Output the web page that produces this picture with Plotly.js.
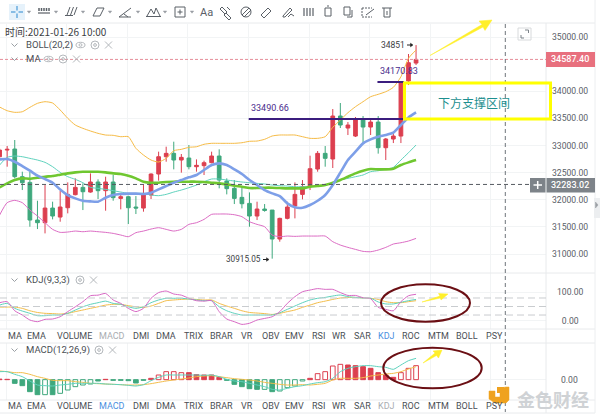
<!DOCTYPE html>
<html><head><meta charset="utf-8">
<script src="https://cdn.plot.ly/plotly-3.0.0.min.js"></script>
<style>html,body{margin:0;padding:0;background:#fff}#c{width:600px;height:414px}</style>
</head><body><div id="c"></div>
<script>
const opens=[32794,32917,32936,32426,32321,31627,31578,31848,31682,31854,32094,32229,32143,32328,32168,32328,32026,32057,31867,31848,32088,32475,32794,32856,32733,32770,32610,32629,32684,32807,32346,32211,32045,31934,31701,31830,31811,31277,31658,31885,32100,32241,32567,32856,32752,33544,33323,33175,33470,33341,33433,32960,33120,33175,34189,34520];
const closes=[32917,32930,32426,32315,31627,31578,31848,31701,31867,32100,32229,32149,32328,32168,32328,32039,32057,31854,31848,32088,32475,32794,32856,32733,32782,32610,32635,32684,32807,32364,32205,32026,31928,31701,31830,31805,31277,31658,31867,32100,32241,32573,32856,32764,33544,33378,33378,33489,33341,33433,32960,33120,33175,34158,34526,34587.4];
const highs=[32948,32991,33102,32518,32518,31983,32272,31965,32162,32321,32395,32303,32487,32377,32426,32457,32088,32076,32069,32272,32487,32887,32979,33071,32844,33010,32745,32721,32887,32930,32395,32364,32229,32137,31965,31922,31811,31670,31965,32321,32364,32813,32899,32991,33673,33784,33433,33526,33544,33470,33544,33139,33249,34170.83,34687,34851];
const lows=[32782,32610,32395,32180,31504,31461,31381,31639,31596,31750,32082,31811,32131,32014,31799,31983,31824,31553,31738,31781,32014,32352,32702,32561,32500,32561,32518,32457,32672,32211,32100,31922,31842,31504,31627,31781,30915.05,31228,31639,31658,32008,32180,32518,32610,32586,33323,33194,33157,33046,33194,32851,32733,33046,33046,34115,34484];
const bollUpper=[33710,33642,33612,33623,33704,33778,33808,33784,33655,33502,33378,33317,33268,33225,33194,33188,33163,33163,32949,32825,32733,32696,32764,32905,32930,32967,32978,33023,33041,33041,33041,33041,33052,33078,33083,33115,33176,33194,33194,33194,33163,33133,33133,33163,33336,33470,33605,33716,33808,33900,33944,33992,34073,34268,34608,34760];
const bollLower=[31719,31947,31990,31947,31811,31701,31578,31455,31400,31406,31424,31412,31424,31412,31400,31381,31351,31320,31394,31424,31461,31486,31455,31424,31455,31547,31578,31639,31732,31738,31738,31725,31689,31596,31547,31504,31351,31320,31332,31326,31332,31332,31332,31332,31228,31166,31123,31086,31050,31043,31074,31123,31185,31209,31240,31289];
const maBlue=[32745,32751,32702,32622,32536,32444,32383,32315,32192,32088,32026,31983,31971,31965,32039,32088,32106,32113,32113,32106,32131,32192,32254,32315,32364,32414,32457,32549,32641,32672,32641,32561,32475,32364,32272,32180,32119,32069,31934,31861,31854,31904,31983,32088,32272,32500,32733,32887,33040,33114,33163,33194,33237,33378,33519,33612];
const maGreen=[32229,32303,32364,32395,32389,32407,32426,32438,32463,32487,32506,32518,32518,32518,32506,32487,32475,32444,32395,32334,32315,32315,32328,32334,32334,32334,32334,32328,32315,32303,32285,32260,32241,32217,32217,32223,32223,32217,32211,32211,32211,32241,32254,32272,32315,32364,32426,32487,32536,32567,32561,32561,32573,32641,32690,32733];
const maTeal=[32641,32782,32807,32794,32764,32733,32690,32610,32506,32426,32377,32315,32229,32211,32192,32168,32143,32119,32119,32119,32088,32076,32100,32143,32180,32223,32272,32334,32383,32383,32364,32346,32328,32315,32303,32291,32272,32260,32254,32241,32241,32241,32254,32272,32303,32364,32395,32426,32457,32518,32536,32561,32598,32733,32868,33010];
const kdjK=[55,61,43.5,34,26,17.7,17.7,20,20,26,37.6,49,57.6,63.4,69,61,57.6,49,43.5,49,63.4,73,79,79,79,76.4,73,70.5,70.5,49,35,26,20,20,20,20,20,28,40,51.7,63.4,73,79,82,87,90.5,84.6,82,80,79,66,59,59,65,70.5,75];
const kdjD=[48,48,48,43.5,35,29,26,25,23.5,26,32,37.6,43.5,49,55,57.6,57.6,53,49,47,51.7,61,70.5,73,75,76.4,75,73,73,61,51.7,43.5,35,29,27,25,22,26,32,37.6,47,55,63.4,69,75,80,82,82,80,79,75,67,63.4,63.4,67,70.5];
const kdjJ=[63.4,67,35,20,2.4,-3.5,4.8,6,14,32,49,67,88,90,96,73,61,43.5,32,43.5,79,99,104.5,94,90,79,70.5,69,70.5,32,6,-3.5,-13,-9,2.4,8,14,32,61,84.6,102,108,113,110.4,110.4,99,89,89,81,77.5,47,40,35,67,88,93];
const macdHist=[5,3,-33,-54,-108,-135,-135,-135,-123,-93,-63,-48,-39,-12,3,-6,-6,-9,-30,-6,12,42,72,72,63,63,45,42,42,21,-6,-42,-63,-81,-87,-87,-108,-102,-72,-57,-12,12,54,72,123,138,132,126,117,102,63,42,21,63,102,126];
const macdHollow=[0,0,0,0,0,0,1,0,1,1,1,1,1,0,0,0,0,0,0,0,0,1,1,1,1,0,0,0,0,0,0,0,0,0,0,1,0,1,1,1,1,0,1,1,1,1,0,0,0,0,0,0,0,1,1,1];
const macdDif=[72,72,48,27,-12,-48,-54,-57,-48,-42,-33,-33,-33,-33,-39,-42,-45,-51,-57,-45,-9,21,42,42,42,42,42,39,42,27,3,-12,-18,-33,-48,-63,-87,-93,-78,-63,-54,-39,-27,-18,12,72,102,117,126,126,117,111,93,132,171,192];
const macdDea=[78,72,63,63,48,27,12,-6,-9,-9,-18,-24,-33,-36,-39,-42,-45,-48,-48,-45,-36,-24,-12,-3,6,15,27,33,36,27,18,9,3,-3,-12,-24,-33,-42,-48,-48,-45,-48,-42,-33,-3,12,12,12,18,33,42,51,57,72,96,117];
const priceTicks=[31000,31500,32000,32500,33000,33500,34000,35000];
const kdjLevels=[20,50,80];
const tabs=['MA','EMA','VOLUME','MACD','DMI','DMA','TRIX','BRAR','VR','OBV','EMV','RSI','WR','SAR','KDJ','ROC','MTM','BOLL','PSY'];
const tabCentres=[15,36.7,74,112,140.7,166.3,193.7,221.7,247,270.7,294,318.3,339.3,362,386.3,411,438,467,494];
const lastPrice=34587.4, crossPrice=32283.02, supportA=33490.66, supportB=34170.83;

const idx=opens.map((_,i)=>i);
const xr=[0.053,72.16];
const X=p=>p/600, Y=p=>1-p/414;
const shapes=[], ann=[];
function L(pts,color,w,fill,dash){
  shapes.push({type:'path',xref:'paper',yref:'paper',
    path:pts.map((p,i)=>(i?'L':'M')+X(p[0])+' '+Y(p[1])).join(' ')+(fill?' Z':''),
    line:{color:color,width:w,dash:dash||'solid'},fillcolor:fill||'rgba(0,0,0,0)'});
}
function B(x0,y0,x1,y1,color,w,fill,type,layer){
  shapes.push({type:type||'rect',xref:'paper',yref:'paper',x0:X(x0),x1:X(x1),y0:Y(y1),y1:Y(y0),
    line:{color:color,width:w},fillcolor:fill||'rgba(0,0,0,0)',layer:layer||'above'});
}
function T(t,px,py,o){o=o||{};
  ann.push({text:t,xref:'paper',yref:'paper',x:X(px),y:Y(py),xanchor:o.a||'left',yanchor:'middle',showarrow:false,
    bgcolor:o.bg,borderpad:0,font:{family:o.f||'Roboto, sans-serif',size:o.s||10,color:o.c||'#4a4f55',weight:o.w||400}});
}
function pointer(x,y){L([[x,y],[x+5,y]],'#222',1);L([[x+3.5,y-1.8],[x+6,y],[x+3.5,y+1.8]],'#222',0.5,'#222');}
// pane frames
[23,273,329,343,400,413].forEach(y=>L([[0,y],[595,y]],'#e8eaec',1));
L([[546,23],[546,413]],'#e8eaec',1);
L([[595,0],[595,413]],'#eceef0',1);
// data-anchored lines
shapes.push({type:'line',xref:'x',yref:'y',x0:xr[0],x1:72.2,y0:lastPrice,y1:lastPrice,line:{color:'#e58d99',width:1,dash:'3px,2px'}});
shapes.push({type:'line',xref:'x',yref:'y',x0:xr[0],x1:72.2,y0:crossPrice,y1:crossPrice,line:{color:'#555b61',width:1,dash:'4px,3px'}});
L([[505.3,24],[505.3,412]],'#6f757b',1,null,'4px,3px');
shapes.push({type:'line',xref:'x',yref:'y',x0:32.9,x1:53.5,y0:supportA,y1:supportA,line:{color:'#3b1d7e',width:2}});
shapes.push({type:'line',xref:'x',yref:'y',x0:49.9,x1:53.4,y0:supportB,y1:supportB,line:{color:'#3b1d7e',width:2}});
kdjLevels.forEach(v=>shapes.push({type:'line',xref:'x2',yref:'y2',x0:xr[0],x1:72.2,y0:v,y1:v,line:{color:'#c9cccf',width:1,dash:'7px,4px'}}));
// price labels
B(546,52,595,67,'#e8707e',0,'#e8707e');
T(lastPrice.toFixed(2),570,59.5,{a:'center',c:'#fff',s:9,w:500});
B(530,178,545.5,192.5,'#7d8389',0,'#7d8389');
B(546.5,178,595,192.5,'#7d8389',0,'#7d8389');
L([[533.5,185],[542,185]],'#fff',1.5);L([[537.7,181],[537.7,189]],'#fff',1.5);
T(crossPrice.toFixed(2),570,185.3,{a:'center',c:'#fff',s:9,w:500});
// expand icon + side handle
B(518,28,531,40,'#d8dadc',1);
L([[521,35],[521,38],[524,38]],'#7d8389',1);L([[525,30],[528.5,30],[528.5,33]],'#7d8389',1);
B(594,198,600,218,'#eceef0',0,'#eceef0');
L([[595.5,202],[598,205],[595.5,208]],'#9a9fa4',0.5,'#9a9fa4');
// hand annotations
B(404.5,83,550.5,119,'#ffff00',3);
L([[430,55.5],[482,24.5],[479,21],[492,20],[485,30.5],[483,27]],'#ffef2a',0.5,'#ffef2a');
L([[422,302],[440,296],[438.5,293.5],[448,294],[441,300],[440.5,298]],'#ffef2a',0.5,'#ffef2a');
L([[423,363],[435,353],[433,351],[442,350],[438.5,358],[436.5,355.5]],'#ffef2a',0.5,'#ffef2a');
B(381,284.3,470,321.7,'#6b0f14',2,null,'circle');
B(383.3,347.7,481.7,388.3,'#6b0f14',2,null,'circle');
T('下方支撑区间',474,102.5,{a:'center',c:'#1d8f8f',s:12,f:'"Noto Sans CJK SC"'});
T('33490.66',250,108,{c:'#4a2c8c',s:9});
T('34170.83',379,71,{c:'#4a2c8c',s:9});
T('34851',380,45,{c:'#3c4044',s:8.5});pointer(407,45);
T('30915.05',225,259,{c:'#3c4044',s:8.2});pointer(263,259.5);
// legend rows
T('时间:2021-01-26 10:00',4,31.5,{f:'"Noto Sans CJK SC", Roboto',s:10,c:'#3c4044'});
[[45,'BOLL(20,2)',76,true],[59,'MA',44,true],[280,'KDJ(9,3,3)',76,false],[350,'MACD(12,26,9)',95,false]].forEach(r=>{
  T(r[1],25,r[0],{s:9.5,c:'#4a4f55'});
  L([[11.5,r[0]-1.5],[14.5,r[0]+1.5],[17.5,r[0]-1.5]],'#9a9fa4',1);
  let x=r[2];
  if(r[3]){B(x,r[0]-2.7,x+9,r[0]+2.7,'#b4b8bc',1,null,'circle');B(x+3,r[0]-1.3,x+6,r[0]+1.3,'#b4b8bc',1,null,'circle');x+=15;}
  B(x,r[0]-4,x+8,r[0]+4,'#b4b8bc',1,null,'circle');B(x+2.7,r[0]-1.4,x+5.4,r[0]+1.4,'#b4b8bc',1,null,'circle');x+=14;
  L([[x,r[0]-3.5],[x+7,r[0]+3.5]],'#b4b8bc',1);L([[x+7,r[0]-3.5],[x,r[0]+3.5]],'#b4b8bc',1);
});
// tabs
tabs.forEach((t,i)=>{
  T(t,tabCentres[i],335.7,{a:'center',s:9,c:t==='KDJ'?'#4a8fe0':t==='MACD'?'#a9adb1':'#4a4f55'});
  T(t,tabCentres[i],406,{a:'center',s:9,c:t==='MACD'?'#4a8fe0':t==='KDJ'?'#a9adb1':'#4a4f55'});
});
// toolbar
const ic='#5a6067';
B(9,4,25,20,'#e6f2fb',0,'#e6f2fb');
L([[11,12],[15.5,12]],'#4a9ad8',1.2);L([[18.5,12],[23,12]],'#4a9ad8',1.2);L([[17,6],[17,10.5]],'#4a9ad8',1.2);L([[17,13.5],[17,18]],'#4a9ad8',1.2);
[29,56,83,110,138,165,192].forEach(x=>L([[x-1.7,11],[x+1.7,11],[x,13.2]],'#9a9fa4',0.5,'#9a9fa4'));
L([[38,13],[50,13]],ic,1.2);[39,41.5,44,46.5,49].forEach(x=>L([[x,8],[x,11]],ic,1.5));
[[67,15,70,7],[70.5,15,73.5,7],[74,15,77,7]].forEach(a=>L([[a[0],a[1]],[a[2],a[3]]],ic,1));L([[65,15.5],[73,15.5]],ic,1);
L([[93,16],[97,8],[104,8],[100,16]],ic,1,'rgba(255,255,255,0)');
L([[119,17],[131,8]],ic,1);L([[119,17],[131,17]],ic,1);L([[124,14],[128,17]],ic,1);
L([[147,16],[151,9],[154,14],[156,8],[160,16]],ic,1);L([[146,16.5],[161,16.5]],ic,1);
B(175,7,185,17,ic,1);L([[177.5,12],[182.5,12]],ic,1);L([[180,9.5],[180,14.5]],ic,1);
T('Aa',207,12,{a:'center',s:11,c:ic});
L([[222,7],[227,12],[225,14],[220,9],[222,7]],ic,1);L([[226,13],[231,18],[229,20],[224,15],[226,13]],ic,1);L([[227,7],[230,10]],ic,1);
L([[242,15],[249,8],[251,10],[244,17],[242,15]],ic,1);B(241,7,251,17,ic,1,null,'circle');
L([[261,15],[268,8],[271,11],[264,18],[261,15]],ic,1);
L([[283,16],[290,8],[292,10],[285,17],[283,17],[283,16]],ic,1);L([[288,17],[291,14],[294,16]],ic,1);
[304,307,310,313].forEach(x=>{L([[x,8],[x,16]],ic,1.2);});
B(325,8,331,16,ic,1);L([[327,6],[329,6]],ic,1);
B(344,7,350,15,ic,1);L([[347,17],[352,17],[352,10]],ic,1);
L([[362,8],[372,8]],ic,1,null,'2px,1px');L([[362,8],[362,17],[372,17]],ic,1,null,'2px,1px');L([[366,15],[374,9]],ic,1);
L([[382,8],[392,8]],ic,1);L([[384,8],[384,17],[390,17],[390,8]],ic,1);L([[387,11],[387,15]],ic,1);
// watermark
L([[489,391],[495,391],[495,397],[500,397],[500,388],[506,387],[509,387],[509,400],[506,403],[495,403],[489,399]],'#efa21f',0.5,'#efa21f');
B(497,387,504,393,'#efa21f',0,'#efa21f');
T('金色财经',516,398.5,{f:'"Noto Sans CJK SC"',s:18,c:'#cfd2d5',w:700});

const line=(x,y,c,w,xa,ya)=>({type:'scatter',mode:'lines',x:x,y:y,xaxis:xa,yaxis:ya,
  line:{color:c,width:w,shape:'spline',smoothing:0.6},hoverinfo:'skip',showlegend:false});
const traces=[
  {type:'candlestick',x:idx,open:opens,high:highs,low:lows,close:closes,width:0.64,xaxis:'x',yaxis:'y',showlegend:false,whiskerwidth:0,
    increasing:{line:{color:'#dc3f4f',width:1},fillcolor:'#dc3f4f'},
    decreasing:{line:{color:'#3fa87d',width:1},fillcolor:'#3fa87d'}},
  line(idx,bollUpper,'#f6bb45',1,'x','y'),
  line(idx,bollLower,'#dc6cc4',1,'x','y'),
  line(idx,maTeal,'#5ed2bd',1,'x','y'),
  line(idx,maGreen,'#6fc730',2.6,'x','y'),
  line(idx,maBlue,'#7d9fe8',2.6,'x','y'),
  line(idx,kdjD,'#f3bd4a',1,'x2','y2'),
  line(idx,kdjK,'#5ed2bd',1,'x2','y2'),
  line(idx,kdjJ,'#d868c4',1,'x2','y2'),
  {type:'bar',x:idx,y:macdHist,width:0.62,xaxis:'x3',yaxis:'y3',showlegend:false,hoverinfo:'skip',
    marker:{color:macdHist.map((v,i)=>macdHollow[i]?'rgba(255,255,255,0)':(v>=0?'#dc3f4f':'#3fa87d')),
      line:{color:macdHist.map(v=>v>=0?'#dc3f4f':'#3fa87d'),width:1}}},
  line(idx,macdDea,'#f3bd4a',1,'x3','y3'),
  line(idx,macdDif,'#5ed2bd',1,'x3','y3')
];
const xa=(a)=>({domain:[0,546/600],range:xr,anchor:a,showgrid:true,gridcolor:'#f2f4f5',gridwidth:1,tickmode:'linear',tick0:0.88,dtick:8,
  showticklabels:false,ticks:'',zeroline:false,showline:false,rangeslider:{visible:false},fixedrange:true});
const tf={family:'Roboto, sans-serif',size:8.6,color:'#5a6067'};
const ya=(a,d,r,vals,txt,st)=>({domain:[Y(d[1]),Y(d[0])],range:r,anchor:a,side:'right',tickmode:'array',tickvals:vals,ticktext:txt,
  tickfont:tf,ticks:'',ticklabelstandoff:st,showgrid:true,gridcolor:'#f2f4f5',zeroline:false,showline:false,fixedrange:true});
const layout={width:600,height:414,margin:{l:0,r:0,t:0,b:0},paper_bgcolor:'#fff',plot_bgcolor:'#fff',showlegend:false,bargap:0,barmode:'overlay',
  xaxis:xa('y'),xaxis2:xa('y2'),xaxis3:xa('y3'),
  yaxis:ya('x',[24,273],[30651,35240],priceTicks,priceTicks.map(v=>v.toFixed(2)),5),
  yaxis2:ya('x2',[273,329],[-29.2,168],[0,100],['\u20070.00','100.00'],10),
  yaxis3:ya('x3',[343,400],[-183,330],[0],['0.00'],14),
  shapes:shapes,annotations:ann};
Plotly.newPlot('c',traces,layout,{staticPlot:true,displayModeBar:false});
</script></body></html>
